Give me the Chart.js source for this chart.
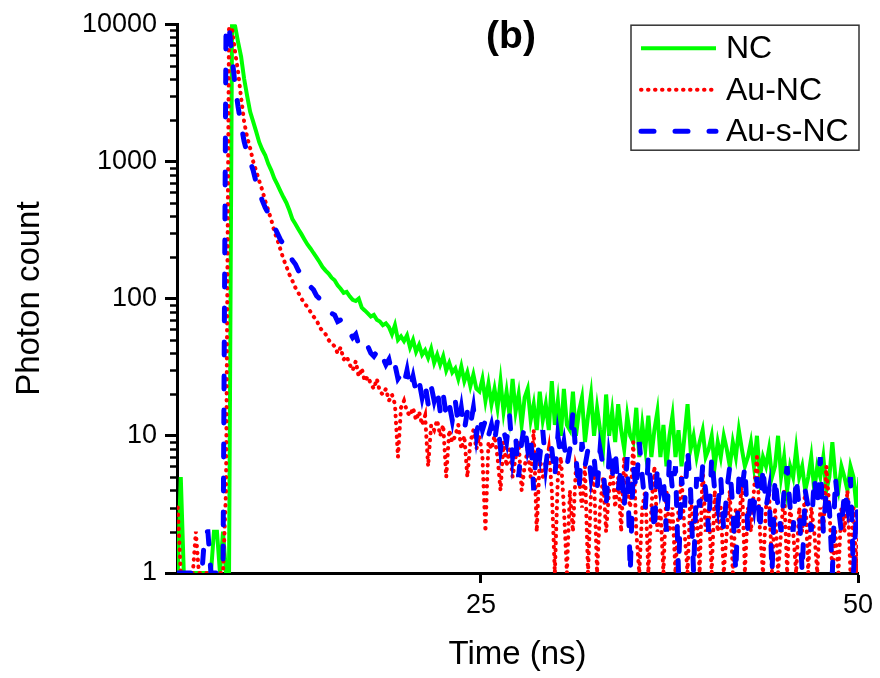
<!DOCTYPE html>
<html>
<head>
<meta charset="utf-8">
<title>Photon count decay</title>
<script src="https://cdn.jsdelivr.net/npm/chart.js@4.4.1/dist/chart.umd.min.js"></script>
<style>
  html, body { margin: 0; padding: 0; background: #fff; }
  #wrap { width: 880px; height: 678px; }
</style>
</head>
<body>
<div id="wrap"><canvas id="decayChart" width="880" height="678"></canvas></div>
<script>
// time channels (ns), 0.2 ns apart starting at 4.9 ns
const channelStart = 4.9;
const channelStep = 0.2;
const channelCount = 227;
const timeNs = Array.from({ length: channelCount }, (_, i) => +(channelStart + channelStep * i).toFixed(1));

// counts, one per channel (0 = no counts)
const ncCounts = [
    0, 5, 0, 0, 0, 0, 0, 0, 0, 0,
    0, 0, 2, 2, 1, 2, 0, 1, 10500, 9700,
    7400, 5800, 4000, 3000, 2300, 1950, 1650, 1380, 1220, 1110,
    960, 860, 750, 680, 610, 550, 500, 440, 380, 350,
    320, 295, 270, 248, 232, 215, 200, 185, 170, 160,
    152, 142, 136, 125, 118, 110, 112, 104, 98, 96,
    100, 86, 82, 78, 74, 76, 70, 68, 64, 66,
    62, 55, 64, 50, 53, 49, 54, 44, 50, 41,
    46, 39, 42, 37, 43, 34, 39, 33, 38, 30,
    34, 29, 31, 26, 32, 25, 29, 23, 28, 22,
    21, 26, 18, 24, 17, 22, 16, 25, 15, 21,
    14, 26, 15, 20, 12, 19, 22, 13, 17, 11,
    21, 13, 17, 11, 25, 12, 18, 10, 22, 12,
    11, 21, 10, 15, 19, 9, 14, 20, 10, 16,
    11, 8, 20, 10, 15, 9, 17, 11, 8, 14,
    10, 9, 16, 7, 12, 8, 14, 7, 11, 15,
    7, 12, 6, 10, 14, 7, 11, 6, 10, 17,
    8, 10, 7, 9, 11, 7, 8, 10, 6, 9,
    7, 10, 8, 6, 9, 7, 11, 8, 6, 7,
    9, 6, 10, 5, 7, 6, 8, 5, 6, 10,
    5, 7, 4, 6, 5, 8, 5, 6, 4, 5,
    7, 4, 6, 5, 7, 4, 5, 9, 5, 4,
    6, 5, 4, 6, 5, 3, 5
];

const auNcCounts = [
    3, 0, 0, 0, 0, 0, 2, 0, 0, 0,
    0, 0, 0, 0, 0, 1, 4, 9500, 9200, 6300,
    4500, 2900, 1950, 1500, 1250, 1000, 850, 720, 620, 515,
    440, 375, 310, 270, 230, 195, 172, 150, 135, 120,
    110, 100, 92, 87, 80, 74, 70, 62, 58, 55,
    50, 47, 45, 40, 44, 36, 38, 33, 30, 35,
    27, 31, 25, 27, 24, 22, 26, 21, 20, 22,
    18, 20, 17, 7, 16, 18, 15, 14, 16, 13,
    15, 12, 14, 6, 12, 11, 13, 10, 12, 5,
    11, 9, 10, 12, 8, 10, 5, 9, 11, 8,
    10, 7, 2, 9, 8, 10, 7, 4, 9, 6,
    8, 5, 7, 9, 4, 6, 8, 5, 11, 2,
    7, 5, 6, 8, 4, 0, 5, 7, 3, 0,
    4, 2, 6, 5, 3, 6, 0, 4, 5, 0,
    3, 5, 2, 4, 6, 3, 5, 2, 7, 4,
    3, 9, 2, 0, 3, 4, 1, 3, 6, 2,
    3, 0, 4, 2, 3, 0, 3, 5, 2, 0,
    4, 2, 3, 1, 6, 2, 3, 0, 4, 2,
    3, 1, 2, 4, 0, 3, 2, 5, 1, 3,
    2, 4, 7, 2, 0, 3, 4, 1, 3, 0,
    2, 4, 1, 3, 2, 0, 3, 2, 4, 1,
    3, 2, 0, 3, 2, 6, 3, 1, 2, 0,
    3, 2, 4, 1, 3, 0, 2
];

const auSNcCounts = [
    0, 0, 0, 0, 0, 0, 1, 1, 1, 2,
    2, 0, 0, 0, 0, 1, 9900, 9600, 5800, 3600,
    2500, 1850, 1400, 1150, 1000, 860, 700, 600, 520, 460,
    420, 370, 335, 300, 270, 250, 232, 215, 190, 178,
    160, 150, 140, 128, 122, 116, 105, 100, 94, 88,
    84, 78, 76, 68, 70, 62, 58, 57, 52, 55,
    46, 48, 43, 45, 40, 38, 41, 35, 37, 33,
    36, 29, 33, 26, 28, 24, 30, 22, 27, 21,
    25, 19, 24, 17, 23, 18, 22, 15, 20, 14,
    17, 13, 18, 12, 16, 11, 15, 12, 16, 10,
    14, 11, 13, 10, 12, 9, 13, 8, 11, 9,
    14, 7, 10, 5, 9, 12, 8, 10, 4, 9,
    7, 11, 6, 9, 8, 5, 10, 7, 9, 6,
    8, 15, 7, 4, 9, 6, 8, 5, 7, 4,
    8, 6, 3, 7, 5, 8, 4, 6, 3, 7,
    1, 6, 4, 9, 5, 3, 7, 4, 2, 6,
    4, 5, 2, 7, 4, 6, 1, 5, 3, 8,
    4, 1, 5, 3, 6, 4, 2, 7, 4, 3,
    5, 2, 4, 6, 3, 1, 5, 4, 6, 2,
    4, 3, 5, 2, 6, 3, 4, 1, 5, 3,
    2, 4, 6, 3, 2, 5, 3, 1, 4, 3,
    2, 5, 3, 7, 2, 4, 3, 1, 5, 3,
    2, 4, 3, 5, 1, 3, 2
];

const seriesNames = ['NC', 'Au-NC', 'Au-s-NC'];
const xTicks = [25, 50];
const yTicks = [1, 10, 100, 1000, 10000];
const yMinorTicks = [2, 3, 4, 5, 6, 7, 8, 9, 20, 30, 40, 50, 60, 70, 80, 90,
    200, 300, 400, 500, 600, 700, 800, 900, 2000, 3000, 4000, 5000, 6000, 7000, 8000, 9000];
const panelLabel = '(b)';

const FONT = "'Liberation Sans', Arial, sans-serif";

// a log axis cannot show 0, so empty channels sit on the bottom of the axis (1)
function toPoints(values) {
    return values.map((v, i) => ({ x: timeNs[i], y: Math.max(v, 1) }));
}

// minor ticks on the log axis, legend box and panel label
const extrasPlugin = {
    id: 'extras',
    afterDraw(chart) {
        const ctx = chart.ctx;
        const y = chart.scales.y;
        const area = chart.chartArea;

        ctx.save();
        ctx.strokeStyle = '#000';
        ctx.lineWidth = 2.5;
        yMinorTicks.forEach(v => {
            const py = Math.round(y.getPixelForValue(v)) + 0.5;
            ctx.beginPath();
            ctx.moveTo(area.left - 7, py);
            ctx.lineTo(area.left, py);
            ctx.stroke();
        });
        ctx.restore();

        // panel label
        ctx.save();
        ctx.fillStyle = '#000';
        ctx.font = 'bold 39px ' + FONT;
        ctx.textAlign = 'center';
        ctx.textBaseline = 'middle';
        ctx.fillText(panelLabel, area.left + 334, area.top + 13);
        ctx.restore();

        // legend box
        const boxLeft = area.right - 227;
        const boxTop = area.top + 1;
        ctx.save();
        ctx.fillStyle = '#fff';
        ctx.fillRect(boxLeft, boxTop, 228, 125);
        ctx.strokeStyle = '#333';
        ctx.lineWidth = 1.5;
        ctx.strokeRect(boxLeft, boxTop, 228, 125);
        chart.data.datasets.forEach((ds, i) => {
            const rowY = boxTop + 23 + i * 41.5;
            ctx.save();
            ctx.strokeStyle = ds.borderColor;
            ctx.lineWidth = ds.borderWidth;
            ctx.lineCap = ds.borderCapStyle || 'butt';
            ctx.setLineDash(ds.borderDash || []);
            ctx.beginPath();
            ctx.moveTo(boxLeft + 10, rowY);
            ctx.lineTo(boxLeft + 85, rowY);
            ctx.stroke();
            ctx.restore();
            ctx.fillStyle = '#000';
            ctx.font = '32px ' + FONT;
            ctx.textAlign = 'left';
            ctx.textBaseline = 'middle';
            ctx.fillText(ds.label, boxLeft + 95, rowY + 1);
        });
        ctx.restore();
    }
};

document.addEventListener('DOMContentLoaded', function() {
    Chart.defaults.font.family = FONT;
    Chart.defaults.color = '#000';

    const ctxDecay = document.getElementById('decayChart').getContext('2d');
    const decayChart = new Chart(ctxDecay, {
        type: 'line',
        data: {
            datasets: [
                {
                    label: seriesNames[0],
                    data: toPoints(ncCounts),
                    borderColor: '#00ff00',
                    borderWidth: 4,
                    order: 3
                },
                {
                    label: seriesNames[1],
                    data: toPoints(auNcCounts),
                    borderColor: '#ff0000',
                    borderWidth: 4,
                    borderDash: [0.5, 6.5],
                    borderCapStyle: 'round',
                    order: 2
                },
                {
                    label: seriesNames[2],
                    data: toPoints(auSNcCounts),
                    borderColor: '#0000ff',
                    borderWidth: 5,
                    borderDash: [13, 21],
                    borderCapStyle: 'round',
                    order: 1
                }
            ]
        },
        options: {
            responsive: false,
            animation: false,
            layout: { padding: { top: 20, right: 22, left: 0, bottom: 0 } },
            elements: { point: { radius: 0 }, line: { tension: 0, fill: false } },
            plugins: {
                legend: { display: false },
                tooltip: { enabled: false }
            },
            scales: {
                x: {
                    type: 'linear',
                    min: 4.85,
                    max: 50,
                    afterBuildTicks: s => { s.ticks = xTicks.map(v => ({ value: v })); },
                    afterFit: s => { s.height = 105; },
                    grid: {
                        drawOnChartArea: false,
                        tickLength: 10,
                        tickWidth: 3,
                        tickColor: '#000'
                    },
                    border: { color: '#000', width: 3 },
                    ticks: {
                        autoSkip: false,
                        maxRotation: 0,
                        padding: 6,
                        font: { size: 27 },
                        color: '#000',
                        callback: v => String(v)
                    },
                    title: {
                        display: true,
                        text: 'Time (ns)',
                        font: { size: 33 },
                        color: '#000',
                        padding: { top: 0, bottom: 3 }
                    }
                },
                y: {
                    type: 'logarithmic',
                    min: 1,
                    max: 10000,
                    afterBuildTicks: s => { s.ticks = yTicks.map(v => ({ value: v })); },
                    afterFit: s => { s.width = 177; },
                    grid: {
                        drawOnChartArea: false,
                        tickLength: 12,
                        tickWidth: 3,
                        tickColor: '#000'
                    },
                    border: { color: '#000', width: 3 },
                    ticks: {
                        padding: 8,
                        font: { size: 27 },
                        color: '#000',
                        callback: v => String(v)
                    },
                    title: {
                        display: true,
                        text: 'Photon count',
                        font: { size: 33 },
                        color: '#000',
                        padding: { top: 10, bottom: 0 }
                    }
                }
            }
        },
        plugins: [extrasPlugin]
    });
});
</script>
</body>
</html>
